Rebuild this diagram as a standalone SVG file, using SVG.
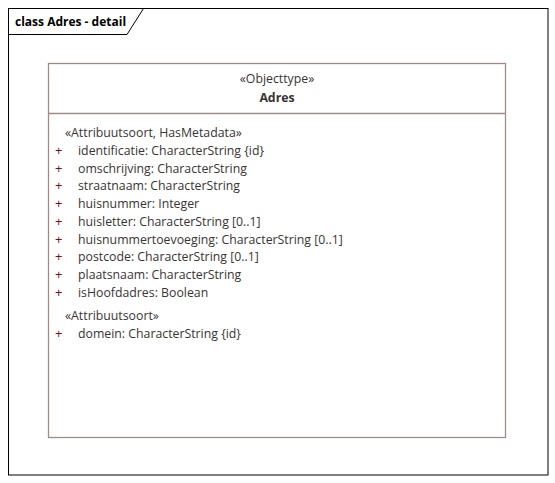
<svg xmlns="http://www.w3.org/2000/svg" width="555" height="483" viewBox="0 0 555 483">
<style>
.t{font-family:"Open Sans","Noto Sans",sans-serif;font-size:12.3px;fill:#3a3333}
.b{font-weight:bold}
.p{font-family:"Open Sans","Noto Sans",sans-serif;font-size:13px;fill:#7a1010}
.box{fill:#ffffff;stroke:#a08a8a;stroke-width:1.3}
</style>
<rect width="555" height="483" fill="#ffffff"/>
<g id="frame">
<rect x="8.5" y="8.5" width="539.5" height="466.5" fill="none" stroke="#000" stroke-width="1"/>
<path d="M8.5 34.5 H127 L143.5 8.5" fill="none" stroke="#000" stroke-width="1"/>
<text x="15" y="25.5" class="t b" style="fill:#000;font-size:12px">class Adres - detail</text>
</g>
<g id="Adres">
<rect x="48.5" y="63.5" width="457" height="374" class="box"/>
<line x1="48.5" y1="113.5" x2="505.5" y2="113.5" stroke="#a08a8a" stroke-width="1.3"/>
<text x="277" y="83" class="t" text-anchor="middle">«Objecttype»</text>
<text x="277" y="102" class="t b" text-anchor="middle">Adres</text>
<text x="65" y="136.5" class="t">«Attribuutsoort, HasMetadata»</text>
<text x="55" y="154.5" class="p">+</text><text x="78" y="154.5" class="t">identificatie: CharacterString {id}</text>
<text x="55" y="172.5" class="p">+</text><text x="78" y="172.5" class="t">omschrijving: CharacterString</text>
<text x="55" y="189.5" class="p">+</text><text x="78" y="189.5" class="t">straatnaam: CharacterString</text>
<text x="55" y="207.5" class="p">+</text><text x="78" y="207.5" class="t">huisnummer: Integer</text>
<text x="55" y="225.5" class="p">+</text><text x="78" y="225.5" class="t">huisletter: CharacterString [0..1]</text>
<text x="55" y="243.5" class="p">+</text><text x="78" y="243.5" class="t">huisnummertoevoeging: CharacterString [0..1]</text>
<text x="55" y="260.5" class="p">+</text><text x="78" y="260.5" class="t">postcode: CharacterString [0..1]</text>
<text x="55" y="278.5" class="p">+</text><text x="78" y="278.5" class="t">plaatsnaam: CharacterString</text>
<text x="55" y="296.5" class="p">+</text><text x="78" y="296.5" class="t">isHoofdadres: Boolean</text>
<text x="65" y="319.5" class="t">«Attribuutsoort»</text>
<text x="55" y="337.5" class="p">+</text><text x="78" y="337.5" class="t">domein: CharacterString {id}</text>
</g>
<g id="connectors"></g>
</svg>
